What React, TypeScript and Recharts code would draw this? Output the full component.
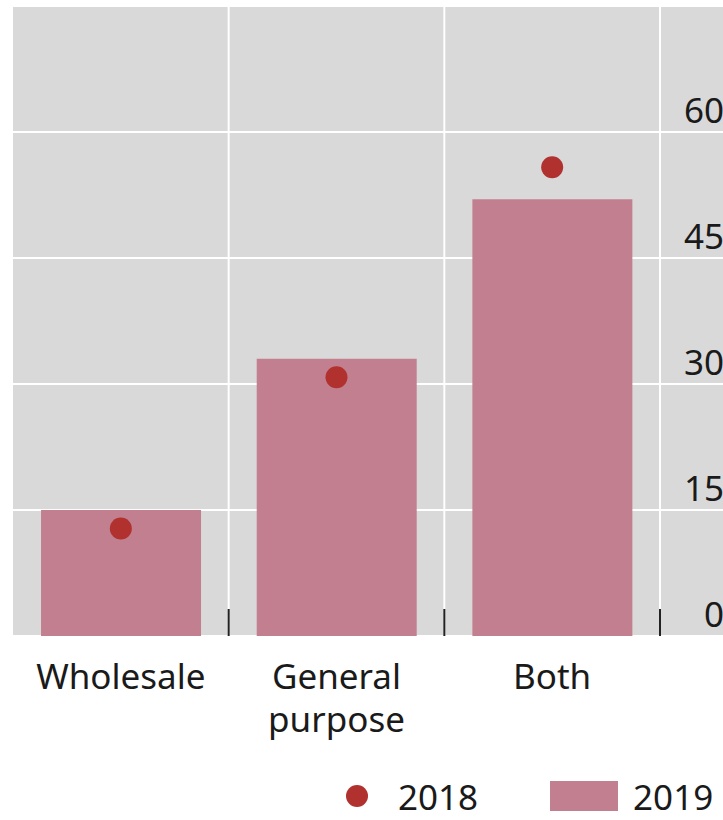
import { Bar, CartesianGrid, ComposedChart, Legend, Line, XAxis, YAxis } from "recharts";

const categories = ["Wholesale", "General purpose", "Both"];
const values2019 = [15, 33, 52];
const values2018 = [12.8, 30.8, 55.8];
const yTicks = [0, 15, 30, 45, 60];

const CHART_W = 723;
const CHART_H = 820;
const MARGIN = { top: 6, right: 0, bottom: 0, left: 13 };
const AXIS_PAD_RIGHT = 63;
const LEGEND_H = 48;
const BAND = (CHART_W - MARGIN.left - MARGIN.right - AXIS_PAD_RIGHT) / categories.length;

const BAR_COLOR = "#c27f8f";
const DOT_COLOR = "#b0312e";
const TEXT_COLOR = "#1a1a1a";
const FONT = "'Noto Sans', 'Open Sans', sans-serif";
const FONT_SIZE = 35;

const data = categories.map((category, i) => ({
  category,
  y2018: values2018[i],
  y2019: values2019[i],
}));

// the category ticks sit on the band edges, the labels in the band centre
function CategoryTick(props: any) {
  const { x, y, payload } = props;
  const lines = String(payload.value).split(" ");
  const edge = x + BAND / 2;
  return (
    <g>
      <line x1={edge} x2={edge} y1={y - 27} y2={y} stroke="#222" strokeWidth={2} />
      <text x={x} y={y + 53} textAnchor="middle" fill={TEXT_COLOR} fontSize={FONT_SIZE} fontFamily={FONT}>
        {lines.map((line, i) => (
          <tspan key={line} x={x} dy={i === 0 ? 0 : 43}>
            {line}
          </tspan>
        ))}
      </text>
    </g>
  );
}

function ValueTick(props: any) {
  const { y, payload } = props;
  return (
    <text x={CHART_W + 1} y={y - 9} textAnchor="end" fill={TEXT_COLOR} fontSize={FONT_SIZE} fontFamily={FONT}>
      {payload.value}
    </text>
  );
}

function LegendContent() {
  return (
    <div
      style={{
        height: LEGEND_H,
        display: "flex",
        alignItems: "center",
        fontFamily: FONT,
        fontSize: FONT_SIZE,
        color: TEXT_COLOR,
        paddingLeft: 346,
        lineHeight: "normal",
      }}
    >
      <span style={{ width: 22, height: 22, borderRadius: 11, background: DOT_COLOR, marginRight: 30 }} />
      <span style={{ marginRight: 72 }}>2018</span>
      <span style={{ width: 68, height: 30, background: BAR_COLOR, marginRight: 15 }} />
      <span>2019</span>
    </div>
  );
}

export default function App() {
  return (
    <div style={{ position: "absolute", left: 0, top: 0, background: "#fff" }}>
      <ComposedChart width={CHART_W} height={CHART_H} data={data} margin={MARGIN} barCategoryGap="13%">
        <CartesianGrid
          fill="#d9d9d9"
          stroke="#ffffff"
          strokeWidth={2}
          verticalCoordinatesGenerator={({ offset }: any) =>
            categories.map((_, i) => offset.left + BAND * (i + 1))
          }
        />
        <XAxis
          dataKey="category"
          height={184 - LEGEND_H}
          interval={0}
          axisLine={false}
          tickLine={false}
          tickSize={0}
          tickMargin={0}
          padding={{ left: 0, right: AXIS_PAD_RIGHT }}
          tick={<CategoryTick />}
        />
        <YAxis
          orientation="right"
          mirror
          width={40}
          domain={[0, 75]}
          ticks={yTicks}
          axisLine={false}
          tickLine={false}
          tick={<ValueTick />}
        />
        <Legend verticalAlign="bottom" wrapperStyle={{ left: 0, width: CHART_W }} content={<LegendContent />} />
        <Bar dataKey="y2019" name="2019" fill={BAR_COLOR} isAnimationActive={false} />
        <Line
          dataKey="y2018"
          name="2018"
          stroke="none"
          dot={{ r: 11, fill: DOT_COLOR, stroke: "none" }}
          activeDot={false}
          isAnimationActive={false}
        />
      </ComposedChart>
    </div>
  );
}
